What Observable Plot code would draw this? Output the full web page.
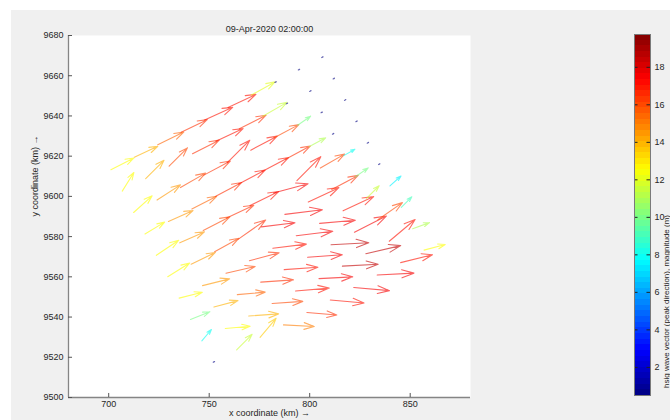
<!DOCTYPE html>
<html>
<head>
<meta charset="utf-8">
<script src="https://cdn.jsdelivr.net/npm/d3@7"></script>
<script src="https://cdn.jsdelivr.net/npm/@observablehq/plot@0.6"></script>
<style>
  html, body { margin: 0; padding: 0; background: #ffffff; }
  #fig { position: relative; width: 670px; height: 420px; overflow: hidden;
         font-family: "Liberation Sans", Arial, sans-serif; }
  #bg { position: absolute; left: 11px; top: 10px; width: 659px; height: 410px; background: #f0f0f0; }
  #fig svg { position: absolute; left: 0; top: 0; background: transparent; }
</style>
</head>
<body>
<div id="fig"><div id="bg"></div></div>
<script>
// ---- labels and ticks ----
const title = "09-Apr-2020 02:00:00";
const xLabel = "x coordinate (km) \u2192";
const yLabel = "y coordinate (km) \u2192";
const colorbarLabel = "hsig wave vector (peak direction), magnitude (m)";
const xTicks = [700, 750, 800, 850];
const yTicks = [9500, 9520, 9540, 9560, 9580, 9600, 9620, 9640, 9660, 9680];
const colorbarTicks = [2, 4, 6, 8, 10, 12, 14, 16, 18];

// ---- rotated computational grid (origin = south-west node, km) ----
const grid = {x0: 752, y0: 9517.5, angle: 28, dx: 13.2, dy: 12.05};

// ---- node values, one row per grid line, north row first, west to east ----
// significant wave height (m)
const hsRows = [
  [12.5, 14.0, 15.5, 16.5, 17.0, 17.0, 12.0, 0.6, 0.5, 0.5],
  [12.5, 14.0, 16.0, 16.5, 17.0, 16.5, 11.5, 0.8, 0.5, 0.5],
  [12.5, 14.5, 16.0, 16.5, 17.0, 17.0, 16.0, 10.0, 0.5, 0.5],
  [12.5, 14.5, 15.5, 16.5, 17.0, 17.0, 16.5, 11.0, 0.6, 0.5],
  [12.5, 14.5, 16.0, 16.5, 17.0, 17.5, 17.0, 16.0, 8.0, 0.6],
  [12.5, 14.5, 16.0, 16.5, 17.5, 17.5, 17.0, 16.5, 10.0, 0.6],
  [12.5, 14.5, 16.0, 16.5, 17.0, 17.5, 17.5, 17.0, 11.5, 7.5],
  [10.0, 14.0, 15.5, 16.5, 17.0, 17.5, 18.5, 17.5, 16.0, 9.0],
  [8.0, 12.5, 14.0, 16.0, 17.0, 17.5, 18.5, 18.5, 17.0, 11.0],
  [0.6, 11.5, 13.5, 15.0, 16.5, 17.0, 17.5, 17.5, 17.0, 12.5]
];
// vector direction (degrees clockwise from north)
const dirRows = [
  [63, 65, 64, 64, 66, 65, 61, 60, 60, 60],
  [32, 45, 45, 63, 65, 63, 60, 60, 60, 60],
  [48, 57, 60, 62, 45, 62, 62, 55, 60, 60],
  [59, 66, 63, 62, 62, 62, 62, 62, 60, 60],
  [56, 66, 63, 65, 64, 75, 45, 60, 60, 60],
  [58, 64, 61, 55, 83, 83, 65, 62, 55, 60],
  [76, 76, 77, 75, 83, 83, 85, 65, 45, 48],
  [68, 75, 85, 86, 86, 86, 87, 63, 55, 45],
  [40, 85, 86, 86, 85, 87, 87, 77, 50, 70],
  [60, 45, 40, 93, 95, 95, 95, 87, 76, 75]
];
// drawn vector length (km)
const lenRows = [
  [12.9, 12.9, 14.4, 14.4, 15.3, 15.3, 13.4, 0.8, 0.8, 0.8],
  [10.9, 12.9, 12.9, 14.9, 14.9, 14.9, 13.9, 0.8, 0.8, 0.8],
  [12.4, 13.9, 14.4, 14.9, 15.8, 14.9, 13.9, 7.9, 0.8, 0.8],
  [11.4, 13.4, 13.9, 14.9, 14.9, 14.9, 13.9, 9.4, 0.8, 0.8],
  [13.4, 13.4, 14.9, 14.9, 15.8, 17.8, 16.8, 13.9, 6.4, 0.8],
  [12.9, 13.4, 13.9, 16.8, 16.8, 18.8, 16.8, 14.9, 7.9, 0.8],
  [11.9, 13.9, 14.9, 15.3, 16.8, 18.3, 17.8, 16.8, 8.9, 7.4],
  [10.4, 12.4, 13.9, 16.3, 16.8, 17.3, 18.8, 17.8, 14.9, 7.4],
  [7.4, 12.4, 14.9, 15.3, 16.8, 16.8, 17.8, 17.8, 16.8, 8.9],
  [0.8, 10.9, 12.4, 15.3, 14.9, 16.8, 17.8, 18.3, 16.3, 10.9]
];

// colour limits of the colormap (m)
const cmin = 0.5, cmax = 19.75;

// ---- build the node table ----
const rad = Math.PI / 180;
const ex = [Math.cos(grid.angle * rad), Math.sin(grid.angle * rad)];
const ey = [-Math.sin(grid.angle * rad), Math.cos(grid.angle * rad)];
const nodes = [];
hsRows.forEach((row, r) => {
  const j = hsRows.length - 1 - r;
  row.forEach((hs, i) => {
    nodes.push({
      x: grid.x0 + i * grid.dx * ex[0] + j * grid.dy * ey[0],
      y: grid.y0 + i * grid.dx * ex[1] + j * grid.dy * ey[1],
      hs,
      dir: dirRows[r][i],
      len: lenRows[r][i]
    });
  });
});

// jet colormap as a piecewise-linear colour scale
const jetColors = ["#000080", "#0000ff", "#00ffff", "#ffff00", "#ff0000", "#800000"];
const jetStops = [0, 1 / 8, 3 / 8, 5 / 8, 7 / 8, 1].map(t => cmin + t * (cmax - cmin));
const colorScale = {type: "linear", domain: jetStops, range: jetColors, interpolate: "rgb"};

// quiver-style arrow: narrow head, one third of the shaft length
const quiverArrow = {
  draw(context, l) {
    const h = 0.33 * l, w = 0.11 * l;
    context.moveTo(0, 0);
    context.lineTo(0, -l);
    context.moveTo(-w, h - l);
    context.lineTo(0, -l);
    context.lineTo(w, h - l);
  }
};

const font = "Liberation Sans, Arial, sans-serif";
const axisColor = "#858585";
const textColor = "#262626";
const plain = d => String(d);

// plot frame: 68..470 px wide for 680..880 km
const mL = 68, mR = 200, mT = 35, mB = 23, W = 670, H = 420;
const xDomain = [680, 880];
const pxPerKm = (W - mL - mR) / (xDomain[1] - xDomain[0]);

const main = Plot.plot({
  width: W, height: H,
  marginLeft: mL, marginRight: mR, marginTop: mT, marginBottom: mB,
  style: {background: "transparent", fontFamily: font, fontSize: "9px", color: textColor},
  x: {domain: xDomain},
  y: {domain: [9500, 9680]},
  color: colorScale,
  length: {domain: [0, 100], range: [0, 100 * pxPerKm]},
  marks: [
    Plot.frame({fill: "white", stroke: "none"}),
    Plot.ruleX([xDomain[0]], {stroke: axisColor, strokeWidth: 1.3}),
    Plot.ruleY([9500], {stroke: axisColor, strokeWidth: 1.3}),
    Plot.ruleX(xTicks, {x: d => d, y1: 9500, y2: 9502, stroke: "#555"}),
    Plot.ruleY(yTicks, {y: d => d, x1: xDomain[0], x2: xDomain[0] + 2, stroke: "#555"}),
    Plot.axisX({ticks: xTicks, tickFormat: plain, tickSize: 0, tickPadding: 3, label: null, fontSize: 9, fill: textColor}),
    Plot.axisY({ticks: yTicks, tickFormat: plain, tickSize: 0, tickPadding: 5, label: null, fontSize: 9, fill: textColor}),
    Plot.vector(nodes, {
      x: "x", y: "y", rotate: "dir", length: "len", anchor: "start",
      stroke: "hs", shape: quiverArrow, strokeWidth: 1.1, strokeOpacity: 0.62
    }),
    Plot.text([title], {text: d => d, frameAnchor: "top", dy: -10, fontSize: 9, fill: textColor}),
    Plot.text([xLabel], {text: d => d, frameAnchor: "bottom", dy: 18, fontSize: 9, fill: textColor}),
    Plot.text([yLabel], {text: d => d, frameAnchor: "left", dx: -33, rotate: -90, fontSize: 9, fill: textColor})
  ]
});
document.getElementById("fig").appendChild(main);

// ---- vertical colorbar ----
const nLevels = 64;
const step = (cmax - cmin) / nLevels;
const levels = d3.range(nLevels).map(k => cmin + (k + 0.5) * step);

const colorbar = Plot.plot({
  width: W, height: H,
  marginLeft: 634, marginRight: 20, marginTop: 34, marginBottom: 25,
  style: {background: "transparent", fontFamily: font, fontSize: "9px", color: textColor},
  x: {domain: [0, 1], axis: null},
  y: {domain: [cmin, cmax], axis: null},
  color: colorScale,
  marks: [
    Plot.rect(levels, {x1: 0, x2: 1, y1: d => d - step / 2, y2: d => d + step / 2, fill: d => d, shapeRendering: "crispEdges"}),
    Plot.ruleY(colorbarTicks, {y: d => d, x1: 0, x2: 0.22, stroke: "#222"}),
    Plot.ruleY(colorbarTicks, {y: d => d, x1: 0.78, x2: 1, stroke: "#222"}),
    Plot.frame({stroke: "#7a7a7a"}),
    Plot.text(colorbarTicks, {x: 1, y: d => d, text: d => d, dx: 4, textAnchor: "start", fontSize: 9, fill: textColor}),
    Plot.text([colorbarLabel], {text: d => d, frameAnchor: "right", dx: 15.5, rotate: -90, fontSize: 8, fill: textColor})
  ]
});
document.getElementById("fig").appendChild(colorbar);
</script>
</body>
</html>
